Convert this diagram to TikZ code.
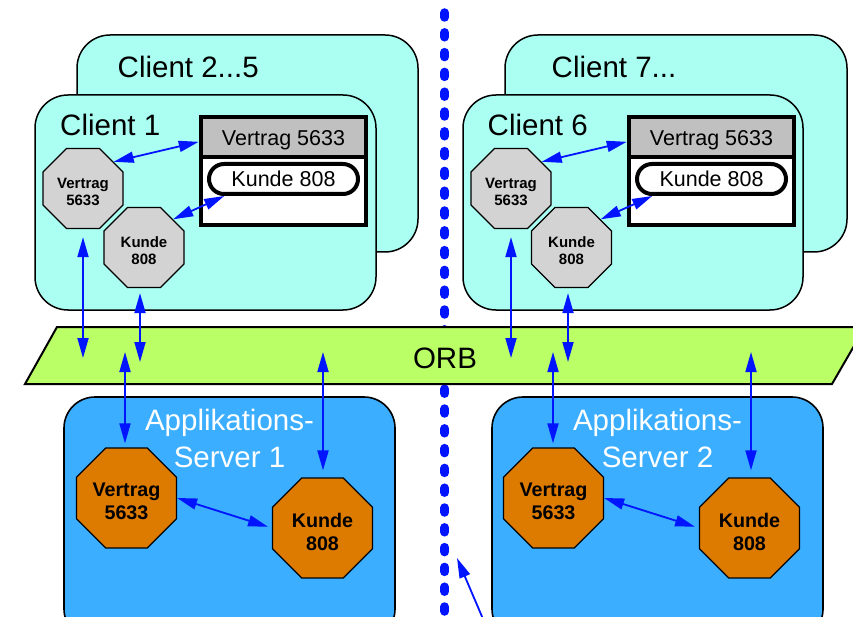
\documentclass[tikz,border=0pt]{standalone}
\usepackage{fontspec}
\setmainfont{Liberation Sans}
\usetikzlibrary{arrows.meta,shapes.geometric,calc}

\definecolor{clientfill}{RGB}{170,255,242}
\definecolor{serverfill}{RGB}{59,174,255}
\definecolor{orbfill}{RGB}{187,255,102}
\definecolor{objorange}{RGB}{221,122,0}
\definecolor{octgrey}{RGB}{211,211,211}
\definecolor{hdrgrey}{RGB}{192,192,192}
\definecolor{linkblue}{RGB}{0,20,255}

\begin{document}
\begin{tikzpicture}[x=1pt,y=-1pt,
  clientbox/.style={draw=black,line width=1.5pt,rounded corners=33pt,fill=clientfill},
  serverbox/.style={draw=black,line width=1.6pt,rounded corners=31pt,fill=serverfill},
  boxlabel/.style={anchor=base west,inner sep=0pt,font=\fontsize{29.5}{36}\selectfont},
  servertitle/.style={inner sep=0pt,align=center,text=white,font=\fontsize{29.5}{37}\selectfont},
  octo/.style={regular polygon,regular polygon sides=8,draw=black,line width=1.2pt,inner sep=0pt},
  smalloct/.style={octo,fill=octgrey,minimum size=86.6pt,
    label={[inner sep=0pt,align=center,yshift=-3.5pt,font=\fontsize{15}{17}\selectfont\bfseries]center:#1}},
  bigoct/.style={octo,fill=objorange,minimum size=108.2pt,
    label={[inner sep=0pt,align=center,yshift=-3.5pt,font=\fontsize{19.7}{23}\selectfont\bfseries]center:#1}},
  hdrframe/.style={draw=black,line width=4.5pt,minimum width=165pt,minimum height=108pt,inner sep=0pt},
  hdrtext/.style={anchor=base,inner sep=0pt,font=\fontsize{21.5}{26}\selectfont},
  pill/.style={draw=black,fill=white,line width=4pt,rounded corners=15pt,minimum width=149pt,minimum height=30pt,inner sep=0pt,font=\fontsize{21.5}{26}\selectfont},
  link/.style={draw=linkblue,line width=1.8pt,{Triangle[length=20pt,width=11pt]}-{Triangle[length=20pt,width=11pt]}},
  onelink/.style={draw=linkblue,line width=1.8pt,-{Triangle[length=20pt,width=11pt]}},
  dotline/.style={draw=linkblue,line width=9pt,line cap=round,dash pattern=on 4.5pt off 15.3pt}
]
\useasboundingbox (0,0) rectangle (853,617);
\clip (0,0) rectangle (853,617);
\fill[white] (0,0) rectangle (853,617);

% back client boxes
\draw[clientbox] (77,35) rectangle (418,252);
\node[boxlabel] (c25) at (117.5,78) {Client 2...5};
\draw[clientbox] (505,35) rectangle (847,252);
\node[boxlabel] (c7) at (551.5,78) {Client 7...};

% separating dotted line
\draw[dotline] (444.7,12.75) -- (444.7,640);

% front client boxes
\draw[clientbox] (35,95) rectangle (376,310);
\node[boxlabel] (c1) at (60,136) {Client 1};
\draw[clientbox] (463,95) rectangle (803,310);
\node[boxlabel] (c6) at (487.5,136) {Client 6};

% proxy frames in the clients
\foreach \dx/\n in {0/1,428/6}{
  \fill[hdrgrey] (201+\dx,117) rectangle (366+\dx,157);
  \fill[white] (201+\dx,157) rectangle (366+\dx,225);
  \draw[line width=4.5pt] (201+\dx,157) -- (366+\dx,157);
  \node[hdrframe] (h\n) at (283.5+\dx,171) {};
  \node[hdrtext] (t\n) at (283.5+\dx,145.5) {Vertrag 5633};
  \node[pill] (p\n) at (283.5+\dx,179) {Kunde 808};
}

% client-side objects
\node[smalloct={Vertrag\\5633}] (v1) at (83,188.5) {};
\node[smalloct={Kunde\\808}] (k1) at (144,247.5) {};
\node[smalloct={Vertrag\\5633}] (v6) at (511,188.5) {};
\node[smalloct={Kunde\\808}] (k6) at (571.5,247.5) {};

% ORB
\draw[fill=orbfill,line width=2pt,line join=miter] (57,327) -- (865,327) -- (832,384) -- (25,384) -- cycle;
\node[anchor=base,inner sep=0pt,font=\fontsize{29.5}{36}\selectfont] (orb) at (445,368.5) {ORB};

% application servers
\draw[serverbox] (64,397) rectangle (395,640);
\node[servertitle] (s1) at (229.5,438.5) {Applikations-\\Server 1};
\draw[serverbox] (492,397) rectangle (823,640);
\node[servertitle] (s2) at (657.5,438.5) {Applikations-\\Server 2};

\node[bigoct={Vertrag\\5633}] (vs1) at (126.5,498) {};
\node[bigoct={Kunde\\808}] (ks1) at (322.5,528) {};
\node[bigoct={Vertrag\\5633}] (vs2) at (553.5,498) {};
\node[bigoct={Kunde\\808}] (ks2) at (749.5,528) {};

% arrow ends inside the ORB
\coordinate (o1) at (83,358);
\coordinate (o2) at (140,362);
\coordinate (o3) at (125,352);
\coordinate (o4) at (323,352);
\coordinate (o5) at (511,358);
\coordinate (o6) at (568,362);
\coordinate (o7) at (553,352);
\coordinate (o8) at (751,352);
\coordinate (b1) at (492,640);
\coordinate (b2) at (457,558);

% connectors
\foreach \n in {1,6}{
  \draw[link] (v\n.41) -- (h\n.161);
  \draw[link] (k\n.44) -- (p\n.196);
}
\draw[link,shorten <=8pt] (v1.south) -- (o1);
\draw[link,shorten <=5pt] (k1.south -| o2) -- (o2);
\draw[link,shorten <=8pt] (v6.south) -- (o5);
\draw[link,shorten <=5pt] (k6.south -| o6) -- (o6);
\draw[link,shorten >=4pt] (o3) -- (o3 |- vs1.north);
\draw[link,shorten >=7pt] (o4) -- (o4 |- ks1.north);
\draw[link,shorten >=4pt] (o7) -- (o7 |- vs2.north);
\draw[link,shorten >=7pt] (o8) -- (o8 |- ks2.north);
\draw[link,shorten >=4pt] (vs1.east) -- (ks1.west);
\draw[link,shorten >=4pt] (vs2.east) -- (ks2.west);
\draw[onelink] (b1) -- (b2);
\end{tikzpicture}
\end{document}
